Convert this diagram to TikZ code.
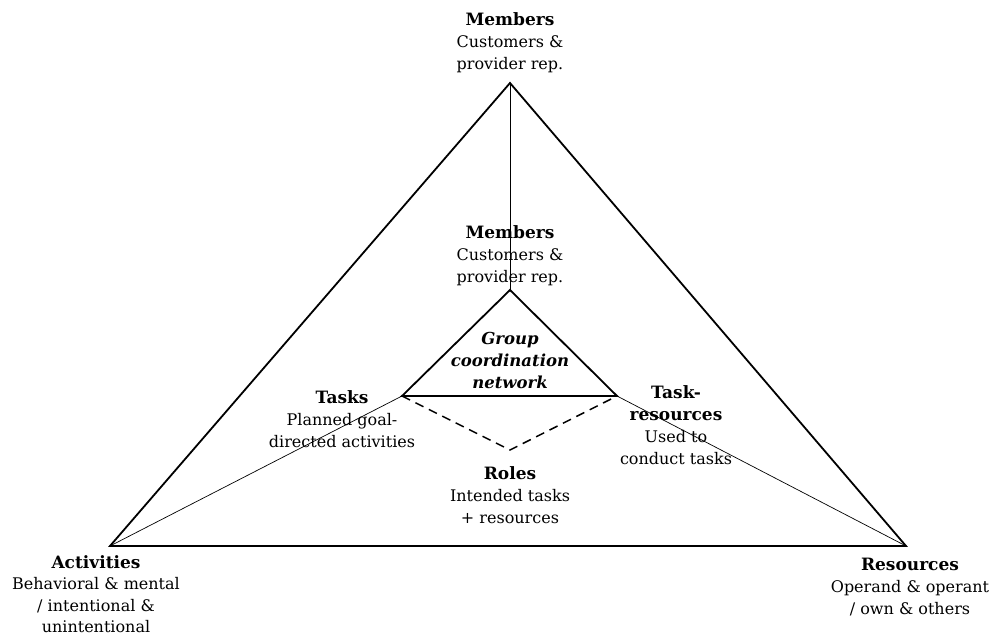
\documentclass[tikz,border=0pt]{standalone}
\usepackage{fontspec}
\setmainfont{DejaVu Serif}
\newcommand{\headtxt}[1]{{\fontsize{17}{22}\selectfont\bfseries #1}}
\begin{document}
\begin{tikzpicture}[x=1pt,y=-1pt,
  lbl/.style={align=center,inner sep=0pt,font=\fontsize{16}{22}\selectfont},
  frame/.style={line width=1.8pt,line join=miter},
  spoke/.style={line width=0.7pt},
  rolepath/.style={line width=1.5pt,dash pattern=on 9pt off 6pt}]
\useasboundingbox (0,0) rectangle (993,639);

% corner points of the outer and inner triangles
\coordinate (oTop) at (510,83);
\coordinate (oLeft) at (110,546);
\coordinate (oRight) at (906,546);
\coordinate (iTop) at (510,290);
\coordinate (iLeft) at (402,396);
\coordinate (iRight) at (617,396);
\coordinate (roleTip) at (510,450);

% labels
\node[lbl] (memOut) at (510,43) {\headtxt{Members}\\Customers \&\\provider rep.};
\node[lbl] (memIn) at (510,256) {\headtxt{Members}\\Customers \&\\provider rep.};
\node[lbl,font=\fontsize{16.5}{22}\selectfont\bfseries\itshape] (gcn) at (510,360) {Group\\coordination\\network};
\node[lbl] (tasks) at (342,419) {\headtxt{Tasks}\\Planned goal-\\directed activities};
\node[lbl] (taskres) at (676,425) {\headtxt{Task-}\\\headtxt{resources}\\Used to\\conduct tasks};
\node[lbl] (roles) at (510,495) {\headtxt{Roles}\\Intended tasks\\+ resources};
\node[lbl,font=\fontsize{16}{21.5}\selectfont] (acts) at (96,594) {\headtxt{Activities}\\Behavioral \& mental\\/ intentional \&\\unintentional};
\node[lbl] (res) at (910,587) {\headtxt{Resources}\\Operand \& operant\\/ own \& others};

% spokes joining matching corners
\draw[spoke] (oTop) -- (iTop);
\draw[spoke] (oLeft) -- (iLeft);
\draw[spoke] (oRight) -- (iRight);

% triangles
\draw[frame] (oTop) -- (oLeft) -- (oRight) -- cycle;
\draw[frame] (iTop) -- (iLeft) -- (iRight) -- cycle;

% roles link
\draw[rolepath] (iLeft) -- (roleTip) -- (iRight);
\end{tikzpicture}
\end{document}
